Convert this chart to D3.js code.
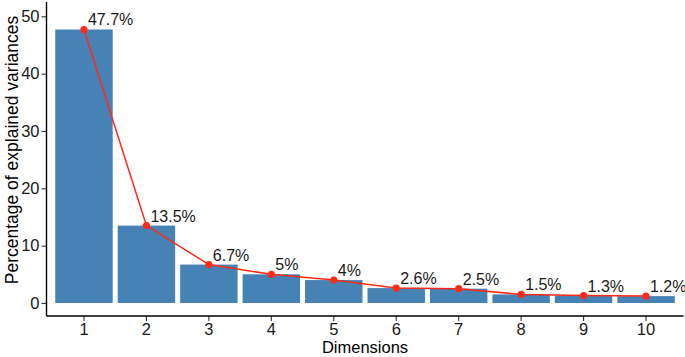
<!DOCTYPE html>
<html><head><meta charset="utf-8">
<script src="https://cdn.jsdelivr.net/npm/d3@7"></script>
<style>body{margin:0;background:#fff;} text{font-family:"Liberation Sans",Arial,sans-serif;}</style>
</head><body>
<svg id="c" width="685" height="357"></svg>
<script>
const dimensions = ["1","2","3","4","5","6","7","8","9","10"];
const variances = [47.7, 13.5, 6.7, 5.0, 4.0, 2.6, 2.5, 1.5, 1.3, 1.2];
const labels = ["47.7%","13.5%","6.7%","5%","4%","2.6%","2.5%","1.5%","1.3%","1.2%"];
const yTicks = [0,10,20,30,40,50];

(function(){
const svg = d3.select("#c");
const pL = 46.5, pR = 683.5, pT = 2, pB = 316;
const step = (pR-pL)/10.2;
const x = d3.scaleBand().domain(dimensions).range([pL+0.1*step, pR-0.1*step]).paddingInner(0.08).paddingOuter(0.04);
const xc = d => x(d) + x.bandwidth()/2;
const y = d3.scaleLinear().domain([0,50]).range([303,16.3]);

svg.append("g").selectAll("rect").data(variances).join("rect")
  .attr("x",(d,i)=>x(dimensions[i])).attr("width",x.bandwidth())
  .attr("y",d=>y(d)).attr("height",d=>y(0)-y(d)).attr("fill","#4682B4");

const line = d3.line().x((d,i)=>xc(dimensions[i])).y(d=>y(d));
svg.append("path").datum(variances).attr("d",line).attr("fill","none").attr("stroke","#FF2A1A").attr("stroke-width",1.5);
svg.append("g").selectAll("circle").data(variances).join("circle")
  .attr("cx",(d,i)=>xc(dimensions[i])).attr("cy",d=>y(d)).attr("r",3.6).attr("fill","#FF2A1A");
svg.append("g").selectAll("text").data(variances).join("text")
  .attr("x",(d,i)=>xc(dimensions[i])+4).attr("y",d=>y(d)-4)
  .attr("font-size",16).attr("fill","#1a1a1a").text((d,i)=>labels[i]);

const yAxis = svg.append("g").attr("transform",`translate(${pL},0)`)
  .call(d3.axisLeft(y).tickValues(yTicks).tickSize(5).tickPadding(2));
yAxis.select(".domain").remove();
svg.append("line").attr("x1",pL).attr("x2",pL).attr("y1",pT).attr("y2",pB).attr("stroke","#000").attr("stroke-width",1.4);
const xAxis = svg.append("g").attr("transform",`translate(0,${pB})`)
  .call(d3.axisBottom(x).tickSize(5).tickPadding(2));
xAxis.select(".domain").remove();
svg.append("line").attr("x1",pL).attr("x2",pR).attr("y1",pB).attr("y2",pB).attr("stroke","#000").attr("stroke-width",1.4);
svg.selectAll(".tick line").attr("stroke","#333").attr("stroke-width",1.1);
svg.selectAll(".tick text").attr("font-size",16.5).attr("fill","#1a1a1a").style("font-family","'Liberation Sans',Arial,sans-serif");

svg.append("text").attr("x",(pL+pR)/2).attr("y",353).attr("text-anchor","middle").attr("font-size",16.5).attr("fill","#000").text("Dimensions");
svg.append("text").attr("transform",`translate(18,150) rotate(-90)`).attr("text-anchor","middle").attr("font-size",17.5).attr("fill","#000").text("Percentage of explained variances");
})();
</script>
</body></html>
